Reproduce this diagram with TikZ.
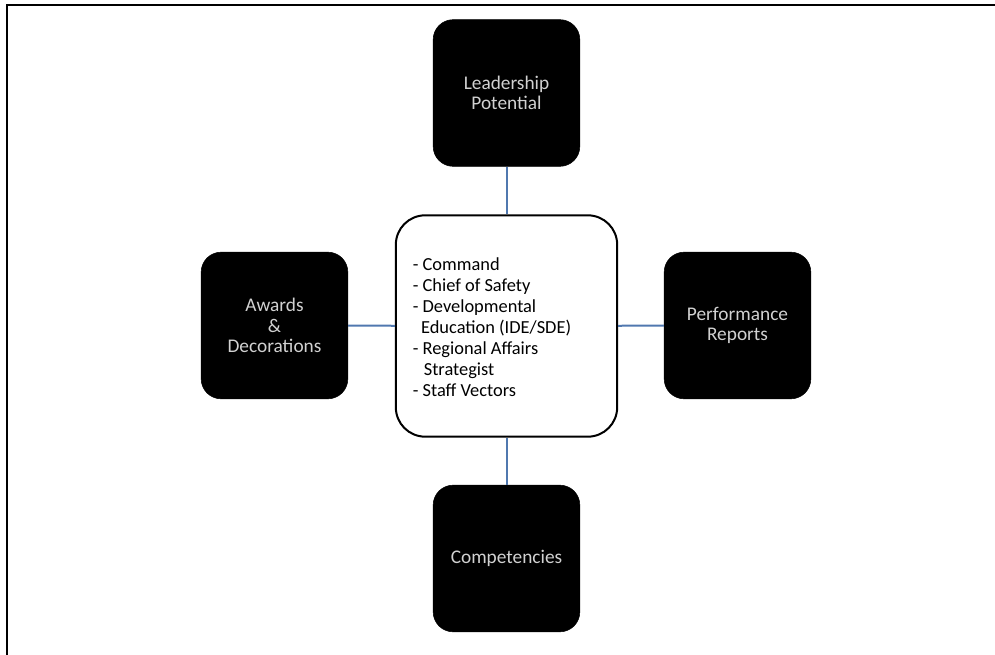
\documentclass[tikz,border=0pt]{standalone}
\usepackage{fontspec}
\setmainfont{Carlito}
\begin{document}
\begin{tikzpicture}[x=0.75pt,y=-0.75pt,
  blk/.style={draw=black,fill=black,rounded corners=15pt,minimum width=110pt,minimum height=110pt,
    text=black!18,align=center,font=\fontsize{14.5pt}{15.2pt}\selectfont,inner sep=0pt},
  ctr/.style={draw=black,line width=1.5pt,fill=white,rounded corners=22pt,minimum width=166pt,minimum height=166pt,
    inner sep=0pt},
  link/.style={draw=linkc,line width=1.5pt}]
\definecolor{linkc}{RGB}{80,120,175}
\useasboundingbox (0,0) rectangle (995,655);
\draw[line width=2.2pt] (7,657) -- (7,5) -- (997,5);
\node[blk] (lead) at (506.5,93) {Leadership\\Potential};
\node[blk] (award) at (274.5,325.5) {Awards\\\&\\Decorations};
\node[blk] (perf) at (737.5,325.5) {Performance\\Reports};
\node[blk] (comp) at (506.5,558.5) {Competencies};
\node[ctr] (mid) at (506.5,326) {};
\node[anchor=center,align=left,inner sep=0pt,font=\fontsize{13.8pt}{15.75pt}\selectfont] (midtext) at (492,327)
  {- Command\\- Chief of Safety\\- Developmental\\\hspace*{0.45em}Education (IDE/SDE)\\- Regional Affairs\\\hspace*{0.6em}Strategist\\- Staff Vectors};
\draw[link] (lead) -- (mid);
\draw[link] (award) -- (mid);
\draw[link] (perf) -- (mid);
\draw[link] (comp) -- (mid);
\end{tikzpicture}
\end{document}
